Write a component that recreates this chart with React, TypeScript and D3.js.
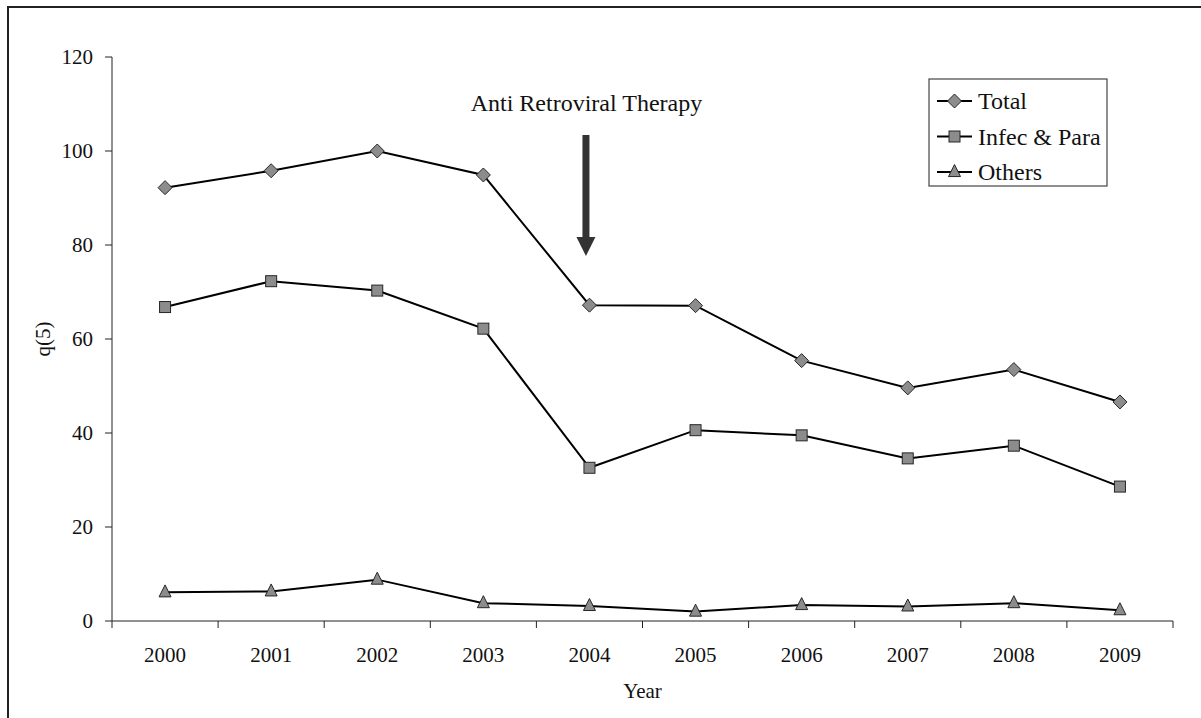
import React from "react";
import * as d3 from "d3";

const years = ["2000", "2001", "2002", "2003", "2004", "2005", "2006", "2007", "2008", "2009"];
const total = [92.2, 95.8, 100.0, 94.9, 67.2, 67.1, 55.4, 49.6, 53.5, 46.6];
const infecPara = [66.8, 72.3, 70.3, 62.2, 32.6, 40.6, 39.5, 34.6, 37.3, 28.6];
const others = [6.1, 6.3, 8.8, 3.8, 3.2, 2.0, 3.4, 3.1, 3.8, 2.3];
const yTicks = [0, 20, 40, 60, 80, 100, 120];
const seriesNames = ["Total", "Infec & Para", "Others"];
const annotationText = "Anti Retroviral Therapy";
const annotationYear = "2004";

const FONT = "'Liberation Serif', 'Times New Roman', serif";
const MARK_FILL = "#8c8c8c";
const MARK_STROKE = "#262626";

function Marker({ kind, x, y }: { kind: string; x: number; y: number }) {
  if (kind === "diamond") {
    const r = 7;
    return (
      <path
        d={`M${x},${y - r}L${x + r},${y}L${x},${y + r}L${x - r},${y}Z`}
        fill={MARK_FILL}
        stroke={MARK_STROKE}
        strokeWidth={1}
      />
    );
  }
  if (kind === "square") {
    const s = 11;
    return <rect x={x - s / 2} y={y - s / 2} width={s} height={s} fill={MARK_FILL} stroke={MARK_STROKE} strokeWidth={1} />;
  }
  const h = 12;
  const w = 12;
  return (
    <path
      d={`M${x},${y - h * 0.62}L${x + w / 2},${y + h * 0.38}L${x - w / 2},${y + h * 0.38}Z`}
      fill={MARK_FILL}
      stroke={MARK_STROKE}
      strokeWidth={1}
    />
  );
}

export default function App() {
  const W = 1201;
  const H = 718;
  const left = 112;
  const right = 1173;
  const top = 57;
  const bottom = 621;

  const x = d3.scaleBand<string>().domain(years).range([left, right]).padding(0);
  const cx = (yr: string) => (x(yr) as number) + x.bandwidth() / 2;
  const y = d3.scaleLinear().domain([0, 120]).range([bottom, top]);

  const line = d3
    .line<number>()
    .x((_, i) => cx(years[i]))
    .y((v) => y(v));

  const series = [
    { name: seriesNames[0], values: total, kind: "diamond" },
    { name: seriesNames[1], values: infecPara, kind: "square" },
    { name: seriesNames[2], values: others, kind: "triangle" },
  ];

  const boundaries = years.map((yr) => x(yr) as number).concat([right]);
  const ax = cx(annotationYear) - 3.5;

  return (
    <div style={{ position: "absolute", left: 0, top: 0 }}>
      <svg width={W} height={H} style={{ display: "block", background: "#fff" }}>
        <rect x={8} y={7} width={W + 20} height={H + 20} fill="#fff" stroke="#222" strokeWidth={2} />

        {/* y axis */}
        <line x1={left} x2={left} y1={top} y2={bottom} stroke="#222" strokeWidth={1} />
        {yTicks.map((t) => (
          <g key={t}>
            <line x1={left - 7} x2={left} y1={y(t)} y2={y(t)} stroke="#222" strokeWidth={1} />
            <text x={left - 19} y={y(t) + 7} textAnchor="end" fontFamily={FONT} fontSize={21} fill="#111">
              {t}
            </text>
          </g>
        ))}
        <text
          transform={`translate(50,${(top + bottom) / 2}) rotate(-90)`}
          textAnchor="middle"
          fontFamily={FONT}
          fontSize={21}
          fill="#111"
        >
          q(5)
        </text>

        {/* x axis */}
        <line x1={left} x2={right} y1={bottom} y2={bottom} stroke="#222" strokeWidth={1} />
        {boundaries.map((b, i) => (
          <line key={i} x1={b} x2={b} y1={bottom} y2={bottom + 7} stroke="#222" strokeWidth={1} />
        ))}
        {years.map((yr) => (
          <text key={yr} x={cx(yr)} y={662} textAnchor="middle" fontFamily={FONT} fontSize={21} fill="#111">
            {yr}
          </text>
        ))}
        <text x={(left + right) / 2} y={698} textAnchor="middle" fontFamily={FONT} fontSize={21} fill="#111">
          Year
        </text>

        {/* series */}
        {series.map((s) => (
          <g key={s.name}>
            <path d={line(s.values) as string} fill="none" stroke="#000" strokeWidth={2} />
            {s.values.map((v, i) => (
              <Marker key={i} kind={s.kind} x={cx(years[i])} y={y(v)} />
            ))}
          </g>
        ))}

        {/* annotation */}
        <text x={cx(annotationYear) - 3} y={111} textAnchor="middle" fontFamily={FONT} fontSize={24} fill="#111">
          {annotationText}
        </text>
        <rect x={ax - 3.5} y={135} width={7} height={103} fill="#333" />
        <path d={`M${ax - 9.5},237L${ax + 9.5},237L${ax},256Z`} fill="#333" />

        {/* legend */}
        <rect x={929} y={79} width={178} height={107} fill="#fff" stroke="#444" strokeWidth={1.2} />
        {series.map((s, i) => {
          const ly = 101 + i * 35.5;
          return (
            <g key={s.name}>
              <line x1={937} x2={972} y1={ly} y2={ly} stroke="#000" strokeWidth={2} />
              <Marker kind={s.kind} x={954.5} y={ly} />
              <text x={978} y={ly + 8} fontFamily={FONT} fontSize={24} fill="#111">
                {s.name}
              </text>
            </g>
          );
        })}
      </svg>
    </div>
  );
}
